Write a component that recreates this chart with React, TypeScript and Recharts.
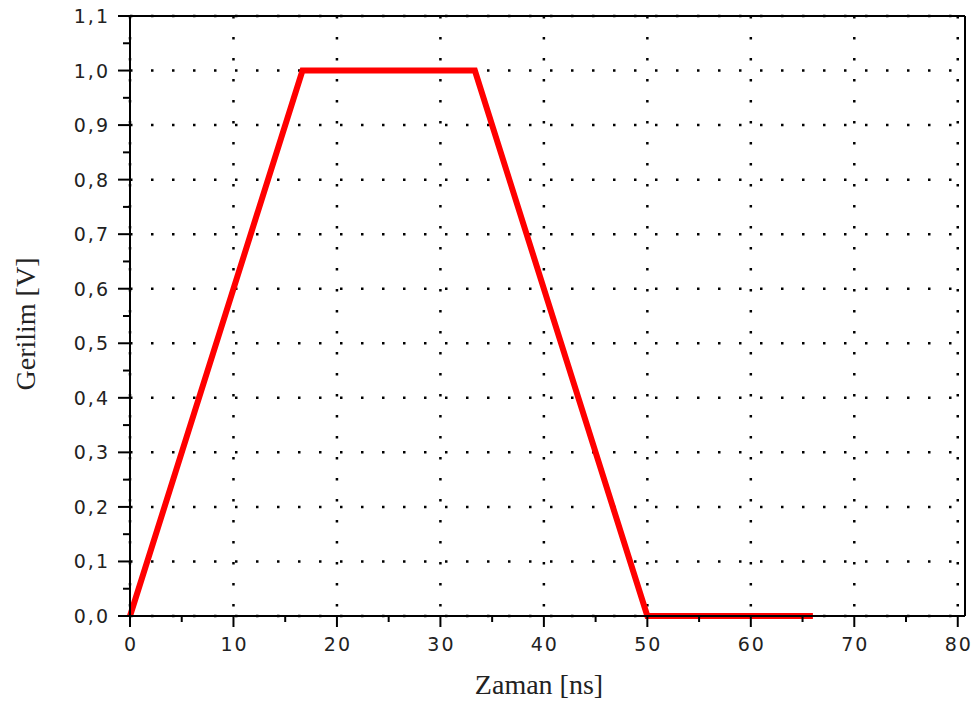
import React from 'react';
import { LineChart, Line, XAxis, YAxis, CartesianGrid, ReferenceLine } from 'recharts';

const timeNs = [0, 16.67, 33.33, 50, 66];
const voltage = [0, 1, 1, 0, 0];

const xMajorTicks = [0, 10, 20, 30, 40, 50, 60, 70, 80];
const xMinorTicks = [5, 15, 25, 35, 45, 55, 65, 75];
const yMajorTicks = [0, 0.1, 0.2, 0.3, 0.4, 0.5, 0.6, 0.7, 0.8, 0.9, 1.0, 1.1];
const yMinorTicks = [0.05, 0.15, 0.25, 0.35, 0.45, 0.55, 0.65, 0.75, 0.85, 0.95, 1.05];

const X_MAX = 80.7;
const Y_MAX = 1.1;

const data = timeNs.map((t, i) => ({ t, v: voltage[i] }));
const xTicks = [...xMajorTicks, ...xMinorTicks].sort((a, b) => a - b);
const yTicks = [...yMajorTicks, ...yMinorTicks].sort((a, b) => a - b);

const isMajor = (list: number[], v: number) => list.some((m) => Math.abs(m - v) < 1e-6);

const tickFont = { fontFamily: 'DejaVu Sans', fontSize: 19, fill: '#222', letterSpacing: 2 };

const XTick = (props: any) => {
  const { x, y, payload } = props;
  const major = isMajor(xMajorTicks, payload.value);
  return (
    <g>
      <line x1={x} x2={x} y1={y} y2={y + (major ? 11 : 6)} stroke="#000" strokeWidth={2} />
      {major && (
        <text x={x + 1} y={y + 35} textAnchor="middle" {...tickFont}>
          {String(payload.value)}
        </text>
      )}
    </g>
  );
};

const YTick = (props: any) => {
  const { x, y, payload } = props;
  const major = isMajor(yMajorTicks, payload.value);
  return (
    <g>
      <line x1={x - (major ? 12 : 7)} x2={x} y1={y} y2={y} stroke="#000" strokeWidth={2} />
      {major && (
        <text x={x - 20} y={y} textAnchor="end" dominantBaseline="central" {...tickFont}>
          {Number(payload.value).toFixed(1).replace('.', ',')}
        </text>
      )}
    </g>
  );
};

const titleFont = { fontFamily: 'Liberation Serif', fontSize: 28, fill: '#222' };

export default function App() {
  return (
    <div style={{ position: 'absolute', left: 0, top: 0, width: 973, height: 702, background: '#fff' }}>
      <LineChart width={973} height={702} data={data} margin={{ top: 16, right: 8, bottom: 0, left: 0 }}>
        <CartesianGrid
          stroke="#000"
          strokeWidth={2.5}
          strokeDasharray="2.5 18.5"
          verticalValues={xMajorTicks}
          horizontalValues={yMajorTicks}
        />
        <XAxis
          dataKey="t"
          type="number"
          domain={[0, X_MAX]}
          ticks={xTicks}
          interval={0}
          height={86}
          tickSize={0}
          tickMargin={0}
          tickLine={false}
          tick={<XTick />}
          axisLine={{ stroke: '#000', strokeWidth: 2 }}
          label={{
            content: () => (
              <text x={539} y={694} textAnchor="middle" {...titleFont}>
                Zaman [ns]
              </text>
            ),
          }}
        />
        <YAxis
          type="number"
          domain={[0, Y_MAX]}
          ticks={yTicks}
          interval={0}
          width={130}
          tickSize={0}
          tickMargin={0}
          tickLine={false}
          tick={<YTick />}
          axisLine={{ stroke: '#000', strokeWidth: 2 }}
          label={{
            content: () => (
              <text x={35} y={324} textAnchor="middle" transform="rotate(-90 35 324)" {...titleFont}>
                Gerilim [V]
              </text>
            ),
          }}
        />
        <ReferenceLine y={Y_MAX} stroke="#000" strokeWidth={2} />
        <ReferenceLine x={X_MAX} stroke="#000" strokeWidth={2} />
        <Line
          dataKey="v"
          type="linear"
          stroke="#ff0000"
          strokeWidth={6}
          dot={false}
          activeDot={false}
          isAnimationActive={false}
        />
      </LineChart>
    </div>
  );
}
